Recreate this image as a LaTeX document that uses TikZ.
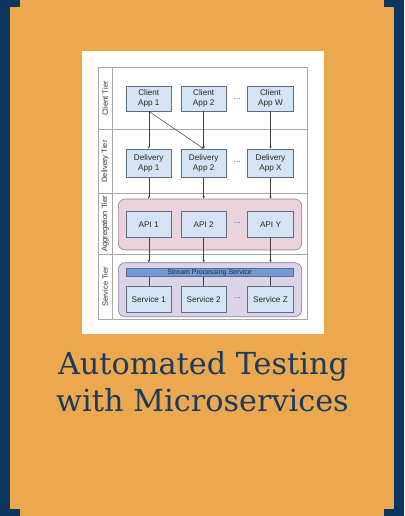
\documentclass[tikz,border=0pt]{standalone}
\usepackage{fontspec}
\setmainfont{Liberation Sans}
\newfontfamily\titlefont{DejaVu Serif}
\usetikzlibrary{arrows.meta}
\definecolor{navy}{HTML}{0C3660}
\definecolor{orangebg}{HTML}{ECA84F}
\definecolor{titlec}{HTML}{1C3A5E}
\definecolor{boxfill}{HTML}{D4E4F4}
\definecolor{boxline}{HTML}{5E6E80}
\definecolor{pinkfill}{HTML}{EAD3DD}
\definecolor{pinkline}{HTML}{9A7A8A}
\definecolor{purpfill}{HTML}{DCD3E8}
\definecolor{purpline}{HTML}{8A7AA0}
\definecolor{barfill}{HTML}{6E9BD6}
\definecolor{gridc}{HTML}{A8A8A8}
\begin{document}
\begin{tikzpicture}[x=1pt,y=-1pt,
  appbox/.style={draw=boxline,fill=boxfill,line width=0.6pt,inner sep=0pt,
    minimum width=45.5pt,font=\fontsize{8.2}{9.8}\selectfont,align=center,text=black!85},
  tierlabel/.style={rotate=90,font=\fontsize{7.6}{9}\selectfont,text=black!80,inner sep=0pt},
  grp/.style={line width=0.6pt,rounded corners=7pt,inner sep=0pt},
  arr/.style={draw=black!75,line width=0.5pt,-{Stealth[length=2.5pt,width=2.2pt]}},
  ln/.style={draw=black!75,line width=0.5pt},
  gridl/.style={draw=gridc,line width=0.6pt},
  dots/.style={font=\fontsize{8}{9}\selectfont,text=black!70}]
% background
\fill[navy] (0,0) rectangle (404,516);
\fill[orangebg] (10,7) rectangle (394,509);
\fill[orangebg] (20,0) rectangle (384,516);
\useasboundingbox (0,0) rectangle (404,516);
% white panel
\fill[white] (82,51) rectangle (324,334);
% grid
\draw[gridl] (98,67.3) rectangle (307.7,319);
\draw[gridl] (112.3,67.3) -- (112.3,319);
\draw[gridl] (98,129.5) -- (307.7,129.5);
\draw[gridl] (98,193.5) -- (307.7,193.5);
\draw[gridl] (98,254.5) -- (307.7,254.5);
% tier labels
\node[tierlabel] (lc) at (105.2,98.4) {Client Tier};
\node[tierlabel] (ld) at (105.2,161.5) {Delivery Tier};
\node[tierlabel] (la) at (105.2,224) {Aggregation Tier};
\node[tierlabel] (ls) at (105.2,286.7) {Service Tier};
% groups
\node[grp,draw=pinkline,fill=pinkfill,minimum width=183.4pt,minimum height=51pt] (agg) at (210,224.5) {};
\node[grp,draw=purpline,fill=purpfill,minimum width=183.4pt,minimum height=54pt] (svc) at (210,289.7) {};
% client apps
\node[appbox,minimum height=25pt] (c1) at (148.75,98.5) {Client\\App 1};
\node[appbox,minimum height=25pt] (c2) at (203.7,98.5) {Client\\App 2};
\node[appbox,minimum height=25pt] (cw) at (270.5,98.5) {Client\\App W};
\node[dots] (dc) at (237.2,99.5) {...};
% delivery apps
\node[appbox,minimum height=28.7pt] (d1) at (148.75,163.3) {Delivery\\App 1};
\node[appbox,minimum height=28.7pt] (d2) at (203.7,163.3) {Delivery\\App 2};
\node[appbox,minimum height=28.7pt] (dx) at (270.5,163.3) {Delivery\\App X};
\node[dots] (dd) at (237.2,162.5) {...};
% APIs
\node[appbox,minimum height=25.6pt] (a1) at (148.75,224.5) {API 1};
\node[appbox,minimum height=25.6pt] (a2) at (203.7,224.5) {API 2};
\node[appbox,minimum height=25.6pt] (ay) at (270.5,224.5) {API Y};
\node[dots] (da) at (237.2,223.5) {...};
% stream bar
\node[draw=boxline,fill=barfill,line width=0.6pt,minimum width=167.3pt,minimum height=8.4pt,inner sep=0pt,
  font=\fontsize{7}{7}\selectfont,text=black!85] (bar) at (209.65,272.5) {Stream Processing Service};
% services
\node[appbox,minimum height=26pt] (s1) at (148.75,299.7) {Service 1};
\node[appbox,minimum height=26pt] (s2) at (203.7,299.7) {Service 2};
\node[appbox,minimum height=26pt] (sz) at (270.5,299.7) {Service Z};
\node[dots] (ds) at (237.2,298.5) {...};
% connectors
\draw[arr] (c1.south) -- (d1.north);
\draw[arr] (c1.south) -- (d2.north);
\draw[arr] (c2.south) -- (d2.north);
\draw[arr] (cw.south) -- (dx.north);
\draw[arr] (d1.south) -- (d1.south |- agg.north);
\draw[arr] (d2.south) -- (d2.south |- agg.north);
\draw[arr] (dx.south) -- (dx.south |- agg.north);
\draw[arr] (a1.south) -- (a1.south |- svc.north);
\draw[arr] (a2.south) -- (a2.south |- svc.north);
\draw[arr] (ay.south) -- (ay.south |- svc.north);
\draw[ln] (bar.south -| s1.north) -- (s1.north);
\draw[ln] (bar.south -| s2.north) -- (s2.north);
\draw[ln] (bar.south -| sz.north) -- (sz.north);
% title
\node[anchor=base,font=\titlefont\fontsize{30.3}{36}\selectfont,text=titlec,inner sep=0pt] (t1) at (203,374) {Automated Testing};
\node[anchor=base,font=\titlefont\fontsize{30.3}{36}\selectfont,text=titlec,inner sep=0pt] (t2) at (202.5,411) {with Microservices};
\end{tikzpicture}
\end{document}
